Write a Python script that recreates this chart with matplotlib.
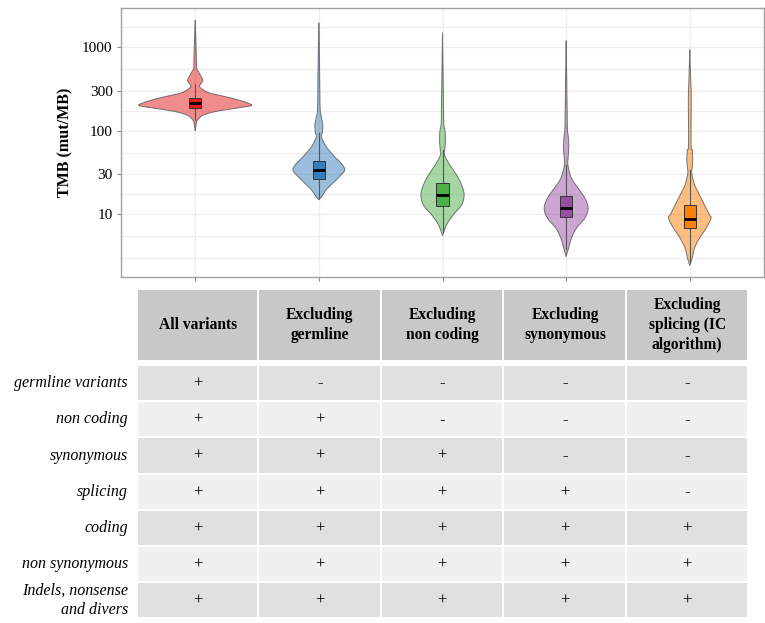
import numpy as np
import matplotlib.pyplot as plt
from matplotlib.patches import Rectangle

plt.rcParams['font.family'] = ['Liberation Serif', 'DejaVu Serif']

# ---- groups ----
categories = ["All variants", "Excluding\ngermline", "Excluding\nnon coding",
              "Excluding\nsynonymous", "Excluding\nsplicing (IC\nalgorithm)"]
colors = ["#E41A1C", "#377EB8", "#4DAF4A", "#984EA3", "#FF7F00"]

# ---- violin outlines: TMB level (mut/MB) and half-width (category units) ----
all_tmb = [2060, 1213, 662, 557, 503, 463, 403, 361, 336, 306, 280, 255, 233,
           213, 199, 185, 169, 154, 141, 128, 100]
all_width = [0, .006, .010, .012, .028, .040, .062, .044, .035, .067, .121,
             .243, .348, .428, .453, .323, .162, .067, .032, .012, 0]

germ_tmb = [1919, 700, 192, 147, 117, 94, 85, 64.4, 48.9, 40.8, 33.9, 28.2,
            23.5, 19.6, 16.3, 14.9]
germ_width = [0, .006, .010, .020, .032, .028, .020, .059, .127, .180, .210,
              .167, .113, .059, .024, 0]

noncod_tmb = [1459, 403, 128, 102, 81, 62, 51.3, 38.9, 29.6, 22.5, 17.1, 12.9,
              9.84, 7.47, 5.56]
noncod_width = [0, .006, .010, .020, .024, .020, .016, .059, .113, .154, .175,
                .154, .087, .032, 0]

syn_tmb = [1180, 306, 107, 89, 64.4, 47.2, 38.9, 27.0, 20.5, 15.6, 11.8, 8.98,
           6.82, 5.18, 3.94, 3.12]
syn_width = [0, .006, .010, .016, .022, .016, .014, .043, .097, .151, .178,
             .151, .083, .043, .020, 0]

splic_tmb = [921, 352, 233, 67.5, 58.8, 44.7, 36.8, 31.0, 22.5, 17.1, 12.9,
             9.84, 8.98, 6.82, 5.18, 3.94, 2.99, 2.44]
splic_width = [0, .008, .012, .010, .020, .024, .020, .016, .038, .078, .119,
               .159, .172, .132, .078, .038, .019, 0]

violin_tmb = [all_tmb, germ_tmb, noncod_tmb, syn_tmb, splic_tmb]
violin_width = [all_width, germ_width, noncod_width, syn_width, splic_width]

# ---- box plot statistics ----
q1 = [188, 26.2, 12.4, 9.2, 6.8]
median = [212, 33.9, 16.9, 11.8, 8.8]
q3 = [244, 43.8, 23.5, 16.7, 12.9]
whisker_lo = [134, 15.7, 6.2, 3.8, 2.7]
whisker_hi = [361, 94, 59, 39, 34]

y_ticks = [10, 30, 100, 300, 1000]
y_tick_labels = ["10", "30", "100", "300", "1000"]

# ---- variant inclusion table ----
row_labels = ["germline variants", "non coding", "synonymous", "splicing",
              "coding", "non synonymous", "Indels, nonsense\nand divers"]
inclusion = [
    ["+", "-", "-", "-", "-"],
    ["+", "+", "-", "-", "-"],
    ["+", "+", "+", "-", "-"],
    ["+", "+", "+", "+", "-"],
    ["+", "+", "+", "+", "+"],
    ["+", "+", "+", "+", "+"],
    ["+", "+", "+", "+", "+"],
]


def smooth_outline(levels, widths, n=12):
    """Catmull-Rom curve through the outline points, in log10(TMB) space."""
    y = np.log10(np.asarray(levels, dtype=float))
    w = np.asarray(widths, dtype=float)
    P = np.column_stack([y, w])
    P = np.vstack([P[0], P, P[-1]])
    out = []
    t = np.linspace(0, 1, n, endpoint=False)[:, None]
    for k in range(1, len(P) - 2):
        p0, p1, p2, p3 = P[k - 1], P[k], P[k + 1], P[k + 2]
        seg = 0.5 * ((2 * p1) + (-p0 + p2) * t
                     + (2 * p0 - 5 * p1 + 4 * p2 - p3) * t ** 2
                     + (-p0 + 3 * p1 - 3 * p2 + p3) * t ** 3)
        out.append(seg)
    out.append(P[-2][None, :])
    out = np.vstack(out)
    return 10 ** out[:, 0], np.clip(out[:, 1], 0, None)


W, H = 765, 623
fig = plt.figure(figsize=(W / 100, H / 100), dpi=100)

# ================= violin panel =================
ax = fig.add_axes([121 / W, 1 - 277 / H, 643 / W, 269 / H])
ax.set_yscale("log")
ax.set_xlim(0.4, 5.6)
ax.set_ylim(1.78, 2925)

# background grid (major breaks and their geometric midpoints)
major = np.array([3, 10, 30, 100, 300, 1000, 3000], dtype=float)
minor = np.sqrt(major[:-1] * major[1:])
for g in np.concatenate([major, minor]):
    ax.axhline(g, color="#EEEEEE", lw=0.9, zorder=0)
positions = np.arange(1, len(categories) + 1)
for p in positions:
    ax.axvline(p, color="#EEEEEE", lw=0.9, zorder=0)

for i, p in enumerate(positions):
    lv, hw = smooth_outline(violin_tmb[i], violin_width[i])
    ax.fill_betweenx(lv, p - hw, p + hw, facecolor=colors[i], alpha=0.5,
                     edgecolor="none", zorder=2)
    ax.plot(np.concatenate([p - hw, (p + hw)[::-1]]),
            np.concatenate([lv, lv[::-1]]),
            color="#555555", lw=0.7, alpha=0.8, zorder=3)
    # whiskers
    ax.plot([p, p], [whisker_lo[i], q1[i]], color="#555555", lw=0.8, zorder=4)
    ax.plot([p, p], [q3[i], whisker_hi[i]], color="#555555", lw=0.8, zorder=4)
    # box
    bw = 0.05
    ax.add_patch(Rectangle((p - bw, q1[i]), 2 * bw, q3[i] - q1[i],
                           facecolor=colors[i], edgecolor="#333333", lw=0.7,
                           zorder=5))
    ax.plot([p - bw, p + bw], [median[i], median[i]], color="black", lw=2,
            zorder=6, solid_capstyle="butt")

ax.set_xticks(positions)
ax.set_xticklabels([])
ax.set_yticks(y_ticks)
ax.set_yticklabels(y_tick_labels)
ax.yaxis.set_minor_locator(plt.NullLocator())
ax.tick_params(axis="both", length=3, width=0.8, color="#888888",
               labelsize=11, labelcolor="black", pad=3)
for s in ax.spines.values():
    s.set_color("#A0A0A0")
    s.set_linewidth(1.0)
ax.set_ylabel("TMB (mut/MB)", fontsize=11.5, fontweight="bold", labelpad=6)

# ================= table =================
tab = fig.add_axes([0, 0, 1, 1], zorder=-1)
tab.set_xlim(0, W)
tab.set_ylim(H, 0)
tab.axis("off")

col_edges = [137, 258.5, 381, 503.5, 626.5, 748]
header_top, header_bot = 290, 360
row_top, row_h = 365, 36.2
gap = 1.0

for j in range(len(categories)):
    x0, x1 = col_edges[j], col_edges[j + 1]
    tab.add_patch(Rectangle((x0 + gap, header_top), x1 - x0 - 2 * gap,
                            header_bot - header_top, facecolor="#C8C8C8",
                            edgecolor="none"))
    tab.text((x0 + x1) / 2, (header_top + header_bot) / 2, categories[j],
             ha="center", va="center", fontsize=11.2, fontweight="bold",
             linespacing=1.3)

for r, lab in enumerate(row_labels):
    y0 = row_top + r * row_h
    fc = "#E0E0E0" if r % 2 == 0 else "#F0F0F0"
    for j in range(len(categories)):
        x0, x1 = col_edges[j], col_edges[j + 1]
        tab.add_patch(Rectangle((x0 + gap, y0 + gap), x1 - x0 - 2 * gap,
                                row_h - 2 * gap, facecolor=fc, edgecolor="none"))
        tab.text((x0 + x1) / 2, y0 + row_h / 2 + 0.5, inclusion[r][j],
                 ha="center", va="center", fontsize=12)
    tab.text(128, y0 + row_h / 2, lab, ha="right", va="center",
             fontsize=11.5, style="italic", linespacing=1.2)

fig.savefig("out.png", dpi=100)
